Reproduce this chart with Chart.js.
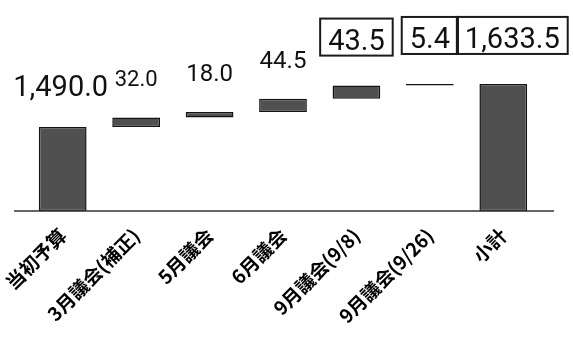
<!DOCTYPE html>
<html>
<head>
<meta charset="utf-8">
<script src="https://cdn.jsdelivr.net/npm/chart.js@4"></script>
<style>
  html, body { margin: 0; padding: 0; background: #fff; }
  #wrap { width: 573px; height: 338px; position: relative; }
</style>
</head>
<body>
<div id="wrap"><canvas id="c"></canvas></div>
<script>
// ---- data ----
const categories = ['当初予算', '3月議会(補正)', '5月議会', '6月議会', '9月議会(9/8)', '9月議会(9/26)', '小計'];
const amounts = [1490.0, 32.0, 18.0, 44.5, 43.5, 5.4, 1633.5];
const barKinds = ['total', 'step', 'step', 'step', 'step', 'step', 'total'];
const valueLabels = ['1,490.0', '32.0', '18.0', '44.5', '43.5', '5.4', '1,633.5'];
const yAxisMin = 1210;
const yAxisMax = 1800;

// floating ranges for the waterfall
const ranges = [];
let running = 0;
amounts.forEach((v, i) => {
  if (barKinds[i] === 'total') {
    ranges.push([yAxisMin, v]);
    running = v;
  } else {
    ranges.push([running, running + v]);
    running += v;
  }
});

const labelPlugin = {
  id: 'valueLabels',
  afterDatasetsDraw(chart, args, opts) {
    const ctx = chart.ctx;
    const meta = chart.getDatasetMeta(0);
    meta.data.forEach((el, i) => {
      const top = Math.min(el.y, el.base);
      const size = opts.sizes[i];
      const boxed = opts.boxed[i];
      const x = el.x + opts.dx[i];
      const baseY = top - (boxed ? opts.boxGap : opts.gap);
      ctx.save();
      ctx.font = size + 'px Roboto';
      ctx.fillStyle = '#111';
      ctx.textAlign = 'center';
      ctx.textBaseline = 'alphabetic';
      ctx.fillText(valueLabels[i], x, baseY);
      if (boxed) {
        const w = ctx.measureText(valueLabels[i]).width;
        ctx.strokeStyle = '#1a1a1a';
        ctx.lineWidth = 2;
        ctx.strokeRect(x - w / 2 - 8, baseY - size * 1.07, w + 16, size * 1.07 + 6);
      }
      ctx.restore();
    });
  }
};

const baselinePlugin = {
  id: 'baseline',
  afterDatasetsDraw(chart, args, opts) {
    const ctx = chart.ctx;
    const a = chart.chartArea;
    const y = chart.scales.y.getPixelForValue(yAxisMin);
    ctx.save();
    ctx.strokeStyle = '#333';
    ctx.lineWidth = 1.5;
    ctx.beginPath();
    ctx.moveTo(a.left - opts.extendLeft, y);
    ctx.lineTo(a.right + opts.extendRight, y);
    ctx.stroke();
    ctx.restore();
  }
};

new Chart(document.getElementById('c'), {
  type: 'bar',
  data: {
    labels: categories,
    datasets: [{
      data: ranges,
      backgroundColor: '#505050',
      borderColor: '#141414',
      borderWidth: 1.5,
      borderSkipped: false,
      categoryPercentage: 1.0,
      barPercentage: 0.65
    }]
  },
  options: {
    responsive: true,
    maintainAspectRatio: false,
    animation: false,
    devicePixelRatio: 1,
    layout: { padding: { top: 34, left: 26, right: 33, bottom: 0 } },
    plugins: {
      legend: { display: false },
      tooltip: { enabled: false },
      valueLabels: {
        sizes: [29, 22, 24, 24, 29, 29, 29],
        boxed: [false, false, false, false, true, true, true],
        dx: [-2, 0, 0, 0, 0, 0, 9],
        gap: 31,
        boxGap: 36
      },
      baseline: { extendLeft: 12, extendRight: 14 }
    },
    scales: {
      x: {
        grid: { display: false, drawTicks: false },
        border: { display: false },
        ticks: {
          color: '#000',
          font: { family: '"Noto Sans CJK JP"', size: 19, weight: 'bold' },
          minRotation: 45,
          maxRotation: 45,
          padding: 13,
          autoSkip: false
        },
        afterFit(scale) {
          scale.height = 127;
          scale.paddingLeft = 0;
          scale.paddingRight = 0;
        }
      },
      y: {
        display: false,
        min: yAxisMin,
        max: yAxisMax
      }
    }
  },
  plugins: [labelPlugin, baselinePlugin]
});
</script>
</body>
</html>
